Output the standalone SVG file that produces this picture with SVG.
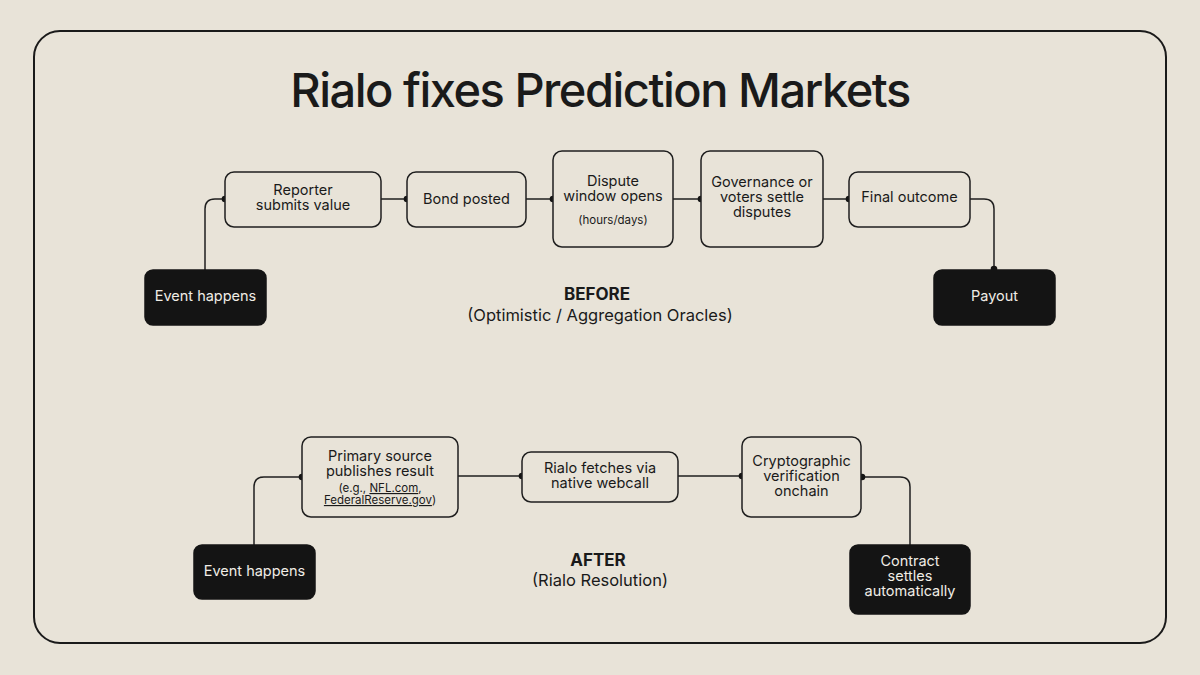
<svg xmlns="http://www.w3.org/2000/svg" width="1200" height="675" viewBox="0 0 1200 675">
<style>
text{font-family:Inter,"Liberation Sans",sans-serif;fill:#1a1a1a;text-anchor:middle}
.box{fill:#e8e3d8;stroke:#1f1f1f;stroke-width:1.5}
.dark{fill:#141414;stroke:#141414;stroke-width:1.5}
.t{font-size:14.5px}
.w{fill:#f0ede6}
.s{font-size:11.5px}
.c{fill:none;stroke:#1f1f1f;stroke-width:1.5}
.dot{fill:#141414}
.lbl{font-size:17px;font-weight:700}
.sub{font-size:16.5px}
</style>
<rect width="1200" height="675" fill="#e8e3d8"/>
<rect x="34" y="31" width="1132" height="612" rx="26" fill="none" stroke="#1a1a1a" stroke-width="2"/>
<text x="600" y="107" style="font-size:47px;letter-spacing:-1.5px;font-weight:500">Rialo fixes Prediction Markets</text>

<g id="connectors">
<path class="c" d="M205 270 V209 Q205 199 215 199 H225"/>
<path class="c" d="M381 199 H407"/>
<path class="c" d="M526 199 H553"/>
<path class="c" d="M673 199 H701"/>
<path class="c" d="M823 199 H849"/>
<path class="c" d="M970 199 H984 Q994 199 994 209 V270"/>
<circle class="dot" cx="225" cy="199" r="3.3"/>
<circle class="dot" cx="407" cy="199" r="3.3"/>
<circle class="dot" cx="553" cy="199" r="3.3"/>
<circle class="dot" cx="701" cy="199" r="3.3"/>
<circle class="dot" cx="849" cy="199" r="3.3"/>
<circle class="dot" cx="994" cy="269" r="3.3"/>
<path class="c" d="M254 545 V487 Q254 477 264 477 H302"/>
<path class="c" d="M458 476 H522"/>
<path class="c" d="M678 476 H742"/>
<path class="c" d="M861 477 H900 Q910 477 910 487 V545"/>
<circle class="dot" cx="302" cy="477" r="3.3"/>
<circle class="dot" cx="522" cy="476" r="3.3"/>
<circle class="dot" cx="742" cy="476" r="3.3"/>
<circle class="dot" cx="862" cy="477" r="3.3"/>
</g>

<g id="before-event"><rect class="dark" x="145" y="270" width="121" height="55" rx="8"/><text class="t w" x="205.5" y="301">Event happens</text></g>
<g id="reporter"><rect class="box" x="225" y="172" width="156" height="55" rx="9"/><text class="t" x="303" y="195">Reporter</text><text class="t" x="303" y="210">submits value</text></g>
<g id="bond"><rect class="box" x="407" y="172" width="119" height="55" rx="9"/><text class="t" x="466.5" y="204">Bond posted</text></g>
<g id="dispute"><rect class="box" x="553" y="151" width="120" height="96" rx="9"/><text class="t" x="613" y="186">Dispute</text><text class="t" x="613" y="201">window opens</text><text class="s" x="613" y="224">(hours/days)</text></g>
<g id="governance"><rect class="box" x="701" y="151" width="122" height="96" rx="9"/><text class="t" x="762" y="187">Governance or</text><text class="t" x="762" y="202">voters settle</text><text class="t" x="762" y="217">disputes</text></g>
<g id="final"><rect class="box" x="849" y="172" width="121" height="55" rx="9"/><text class="t" x="909.5" y="202">Final outcome</text></g>
<g id="payout"><rect class="dark" x="934" y="270" width="121" height="55" rx="8"/><text class="t w" x="994.5" y="301">Payout</text></g>

<g id="before-label"><text class="lbl" x="597" y="300">BEFORE</text><text class="sub" x="600" y="321">(Optimistic / Aggregation Oracles)</text></g>

<g id="after-event"><rect class="dark" x="194" y="545" width="121" height="54" rx="8"/><text class="t w" x="254.5" y="576">Event happens</text></g>
<g id="primary"><rect class="box" x="302" y="437" width="156" height="80" rx="9"/><text class="t" x="380" y="461">Primary source</text><text class="t" x="380" y="476">publishes result</text><text class="s" x="380" y="492">(e.g., <tspan text-decoration="underline">NFL.com</tspan>,</text><text class="s" x="380" y="504"><tspan text-decoration="underline">FederalReserve.gov</tspan>)</text></g>
<g id="fetch"><rect class="box" x="522" y="452" width="156" height="50" rx="9"/><text class="t" x="600" y="473">Rialo fetches via</text><text class="t" x="600" y="488">native webcall</text></g>
<g id="crypto"><rect class="box" x="742" y="437" width="119" height="80" rx="9"/><text class="t" x="801.5" y="466">Cryptographic</text><text class="t" x="801.5" y="481">verification</text><text class="t" x="801.5" y="496">onchain</text></g>
<g id="contract"><rect class="dark" x="850" y="545" width="120" height="69" rx="8"/><text class="t w" x="910" y="566">Contract</text><text class="t w" x="910" y="581">settles</text><text class="t w" x="910" y="596">automatically</text></g>

<g id="after-label"><text class="lbl" x="598" y="566">AFTER</text><text class="sub" x="600" y="586">(Rialo Resolution)</text></g>
</svg>
